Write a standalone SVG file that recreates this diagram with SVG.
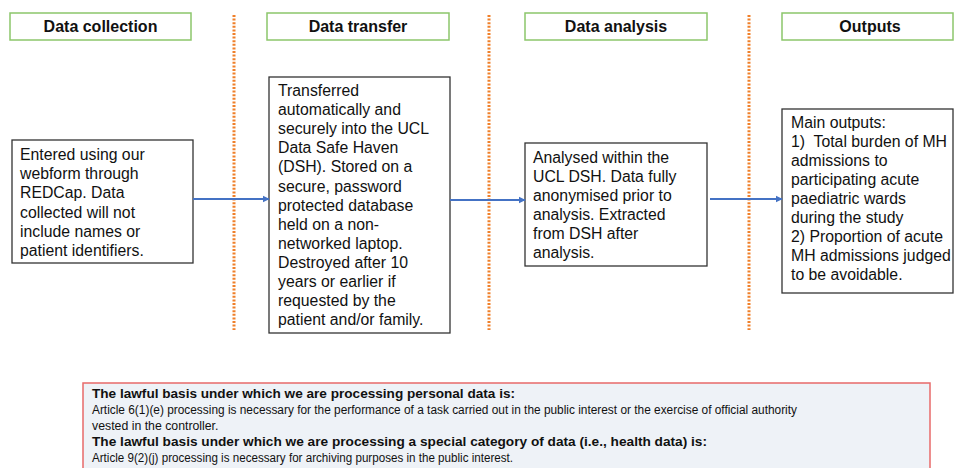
<svg xmlns="http://www.w3.org/2000/svg" width="954" height="468" viewBox="0 0 954 468">
<defs>
<style>
.hdr{fill:#fff;stroke:#8cc66b;stroke-width:1.5}
.ht{font-family:"Liberation Sans",Arial,sans-serif;font-size:16px;font-weight:bold;fill:#111;text-anchor:middle}
.box{fill:#fff;stroke:#333;stroke-width:1.3}
.bt{font-family:"Liberation Sans",Arial,sans-serif;font-size:15.8px;fill:#111}
.sep{stroke:#f0802a;stroke-width:3;stroke-dasharray:2 1.6}
.arr{stroke:#4472c4;stroke-width:1.8;fill:none;marker-end:url(#ah)}
.law{fill:#eef2f7;stroke:#e86a6a;stroke-width:1.5}
.lt{font-family:"Liberation Sans",Arial,sans-serif;font-size:12.3px;fill:#111}
.lb{font-weight:bold;font-size:13.5px}
</style>
<marker id="ah" viewBox="0 0 10 10" refX="9" refY="5" markerWidth="4" markerHeight="4" orient="auto" markerUnits="strokeWidth">
<path d="M0,0 L10,5 L0,10 z" fill="#4472c4"/>
</marker>
</defs>
<rect width="954" height="468" fill="#fff"/>
<g id="separators">
<line class="sep" x1="234" y1="15" x2="234" y2="330"/>
<line class="sep" x1="489" y1="15" x2="489" y2="330"/>
<line class="sep" x1="749" y1="15" x2="749" y2="330"/>
</g>
<g id="hdr-collection"><rect class="hdr" x="10" y="13" width="181" height="27"/><text class="ht" x="100.5" y="32">Data collection</text></g>
<g id="hdr-transfer"><rect class="hdr" x="267" y="13" width="182" height="27"/><text class="ht" x="358" y="32">Data transfer</text></g>
<g id="hdr-analysis"><rect class="hdr" x="525" y="13" width="182" height="27"/><text class="ht" x="616" y="32">Data analysis</text></g>
<g id="hdr-outputs"><rect class="hdr" x="782" y="13" width="171" height="27"/><text class="ht" x="870" y="32">Outputs</text></g>
<g id="node-collection">
<rect class="box" x="12" y="140" width="181" height="123"/>
<text class="bt">
<tspan x="20" y="160">Entered using our</tspan>
<tspan x="20" y="179.2">webform through</tspan>
<tspan x="20" y="198.4">REDCap. Data</tspan>
<tspan x="20" y="217.6">collected will not</tspan>
<tspan x="20" y="236.8">include names or</tspan>
<tspan x="20" y="256">patient identifiers.</tspan>
</text>
</g>
<g id="node-transfer">
<rect class="box" x="269" y="77" width="181" height="256"/>
<text class="bt">
<tspan x="278" y="96">Transferred</tspan>
<tspan x="278" y="115.1">automatically and</tspan>
<tspan x="278" y="134.2">securely into the UCL</tspan>
<tspan x="278" y="153.3">Data Safe Haven</tspan>
<tspan x="278" y="172.4">(DSH). Stored on a</tspan>
<tspan x="278" y="191.5">secure, password</tspan>
<tspan x="278" y="210.6">protected database</tspan>
<tspan x="278" y="229.7">held on a non-</tspan>
<tspan x="278" y="248.8">networked laptop.</tspan>
<tspan x="278" y="267.9">Destroyed after 10</tspan>
<tspan x="278" y="287">years or earlier if</tspan>
<tspan x="278" y="306.1">requested by the</tspan>
<tspan x="278" y="325.2">patient and/or family.</tspan>
</text>
</g>
<g id="node-analysis">
<rect class="box" x="525" y="143" width="182" height="123"/>
<text class="bt">
<tspan x="533" y="163">Analysed within the</tspan>
<tspan x="533" y="182">UCL DSH. Data fully</tspan>
<tspan x="533" y="201">anonymised prior to</tspan>
<tspan x="533" y="220">analysis. Extracted</tspan>
<tspan x="533" y="239">from DSH after</tspan>
<tspan x="533" y="258">analysis.</tspan>
</text>
</g>
<g id="node-outputs">
<rect class="box" x="782" y="109" width="171" height="184"/>
<text class="bt">
<tspan x="791" y="128">Main outputs:</tspan>
<tspan x="791" y="147" xml:space="preserve">1)  Total burden of MH</tspan>
<tspan x="791" y="166">admissions to</tspan>
<tspan x="791" y="185">participating acute</tspan>
<tspan x="791" y="204">paediatric wards</tspan>
<tspan x="791" y="223">during the study</tspan>
<tspan x="791" y="242">2) Proportion of acute</tspan>
<tspan x="791" y="261">MH admissions judged</tspan>
<tspan x="791" y="280">to be avoidable.</tspan>
</text>
</g>
<g id="connectors">
<line class="arr" x1="193" y1="199" x2="269" y2="199"/>
<line class="arr" x1="450" y1="200" x2="525" y2="200"/>
<line class="arr" x1="710" y1="199" x2="782" y2="199"/>
</g>
<g id="lawful-basis">
<rect class="law" x="83" y="383" width="847" height="95"/>
<text class="lt">
<tspan class="lb" x="92" y="398" textLength="423" lengthAdjust="spacingAndGlyphs">The lawful basis under which we are processing personal data is:</tspan>
<tspan x="92" y="414" textLength="705" lengthAdjust="spacingAndGlyphs">Article 6(1)(e) processing is necessary for the performance of a task carried out in the public interest or the exercise of official authority</tspan>
<tspan x="92" y="430">vested in the controller.</tspan>
<tspan class="lb" x="92" y="446" textLength="615" lengthAdjust="spacingAndGlyphs">The lawful basis under which we are processing a special category of data (i.e., health data) is:</tspan>
<tspan x="92" y="462" textLength="421" lengthAdjust="spacingAndGlyphs">Article 9(2)(j) processing is necessary for archiving purposes in the public interest.</tspan>
</text>
</g>
</svg>
